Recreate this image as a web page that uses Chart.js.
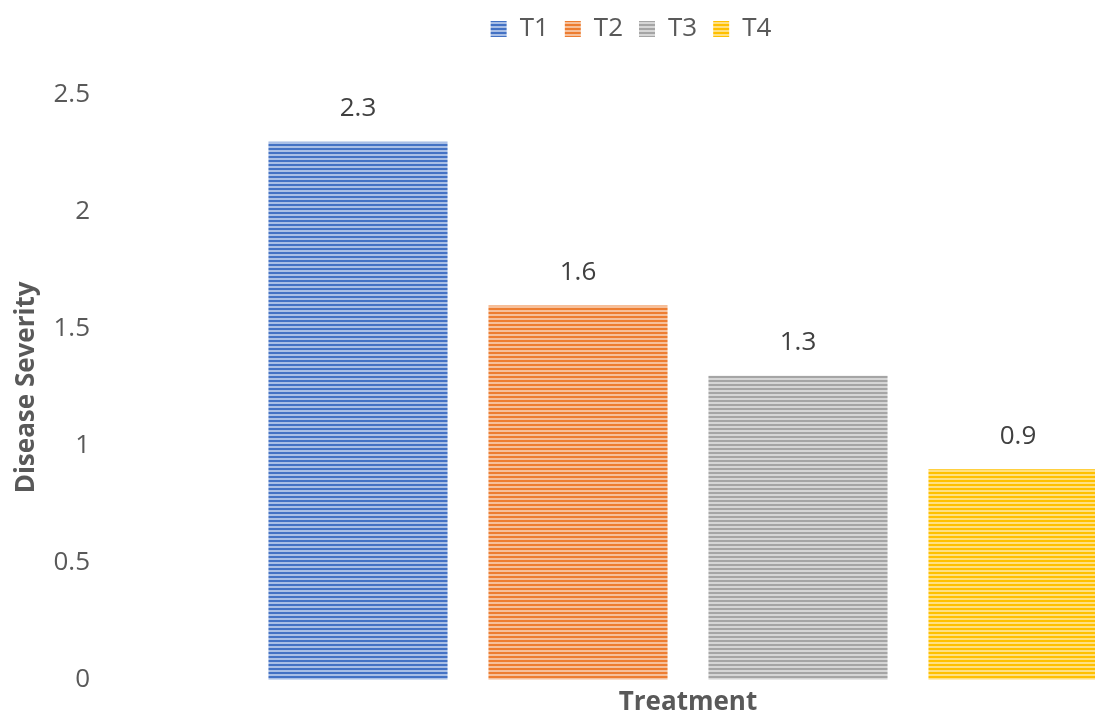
<!DOCTYPE html>
<html>
<head>
<meta charset="utf-8">
<script src="https://cdn.jsdelivr.net/npm/chart.js@4.4.1/dist/chart.umd.min.js"></script>
<style>
    html, body { margin: 0; padding: 0; background: #ffffff; overflow: hidden; }
    #wrap { width: 1262px; height: 714px; }
</style>
</head>
<body>
<div id="wrap"><canvas id="chart1" width="1262" height="714"></canvas></div>
<script>
// data
var treatments = ["T1", "T2", "T3", "T4"];
var severity = [2.3, 1.6, 1.3, 0.9];
var yTicks = [0, 0.5, 1, 1.5, 2, 2.5];
var baseColors = ['#4472c4', '#ed7d31', '#a5a5a5', '#ffc000'];
var lightColors = ['#a9bfe6', '#f6c09b', '#d6d6d6', '#ffe083'];

// horizontal stripe fill like the excel bars
function stripes(base, light) {
    var c = document.createElement('canvas');
    c.width = 4;
    c.height = 4;
    var g = c.getContext('2d');
    g.fillStyle = base;
    g.fillRect(0, 0, 4, 4);
    g.fillStyle = light;
    g.fillRect(0, 2, 4, 2);
    return g.createPattern(c, 'repeat');
}

// one dataset per treatment so the legend shows T1..T4
var datasets = treatments.map(function (t, i) {
    var values = treatments.map(function (x, j) { return j == i ? severity[i] : null; });
    return {
        label: t,
        data: values,
        backgroundColor: stripes(baseColors[i], lightColors[i]),
        borderWidth: 0,
        grouped: false,
        categoryPercentage: 1,
        barPercentage: 0.814
    };
});

// value labels above the bars
var barLabels = {
    id: 'barLabels',
    afterDatasetsDraw: function (chart) {
        var ctx = chart.ctx;
        ctx.save();
        ctx.font = '26px "Open Sans"';
        ctx.fillStyle = '#404040';
        ctx.textAlign = 'center';
        ctx.textBaseline = 'middle';
        chart.data.datasets.forEach(function (ds, i) {
            var meta = chart.getDatasetMeta(i);
            meta.data.forEach(function (bar, j) {
                if (ds.data[j] == null) return;
                ctx.fillText(String(ds.data[j]), bar.x, bar.y - 33);
            });
        });
        ctx.restore();
    }
};

// extra room between legend and plot
var legendGap = {
    id: 'legendGap',
    beforeInit: function (chart) {
        var fit = chart.legend.fit;
        chart.legend.fit = function () {
            fit.bind(chart.legend)();
            this.height += 43;
        };
    }
};

var ctxChart1 = document.getElementById('chart1').getContext('2d');
var chart1 = new Chart(ctxChart1, {
    type: 'bar',
    plugins: [barLabels, legendGap],
    data: {
        labels: treatments,
        datasets: datasets
    }, options: {
        responsive: false,
        animation: false,
        layout: { padding: 0 },
        plugins: {
            legend: {
                position: 'top',
                labels: {
                    boxWidth: 16,
                    boxHeight: 16,
                    padding: 16,
                    color: '#595959',
                    font: { family: 'Open Sans', size: 26 }
                }
            },
            title: { display: false },
            tooltip: { enabled: false }
        }, scales: {
            x: {
                grid: { display: false, drawTicks: false },
                border: { display: false },
                ticks: { display: false },
                title: {
                    display: true,
                    text: 'Treatment',
                    color: '#595959',
                    font: { family: 'Open Sans', size: 26, weight: 'bold' },
                    padding: { top: 7, bottom: -4 }
                }
            },
            y: {
                min: yTicks[0],
                max: yTicks[yTicks.length - 1],
                grid: { display: false, drawTicks: false },
                border: { display: false },
                ticks: {
                    stepSize: 0.5,
                    padding: 158,
                    color: '#595959',
                    font: { family: 'Open Sans', size: 26 },
                    callback: function (v) { return String(v); }
                },
                title: {
                    display: true,
                    text: 'Disease Severity',
                    color: '#595959',
                    font: { family: 'Open Sans', size: 26, weight: 'bold' },
                    padding: { top: 11, bottom: 0 }
                },
                afterFit: function (scale) {
                    // big tick padding is only meant sideways
                    scale.width = 248;
                    scale.paddingTop = 0;
                    scale.paddingBottom = 0;
                }
            },
            yRight: {
                type: 'linear',
                position: 'right',
                grid: { display: false, drawTicks: false },
                border: { display: false },
                ticks: { display: false },
                afterFit: function (scale) { scale.width = 134; }
            }
        }
    }
});
</script>
</body>
</html>
